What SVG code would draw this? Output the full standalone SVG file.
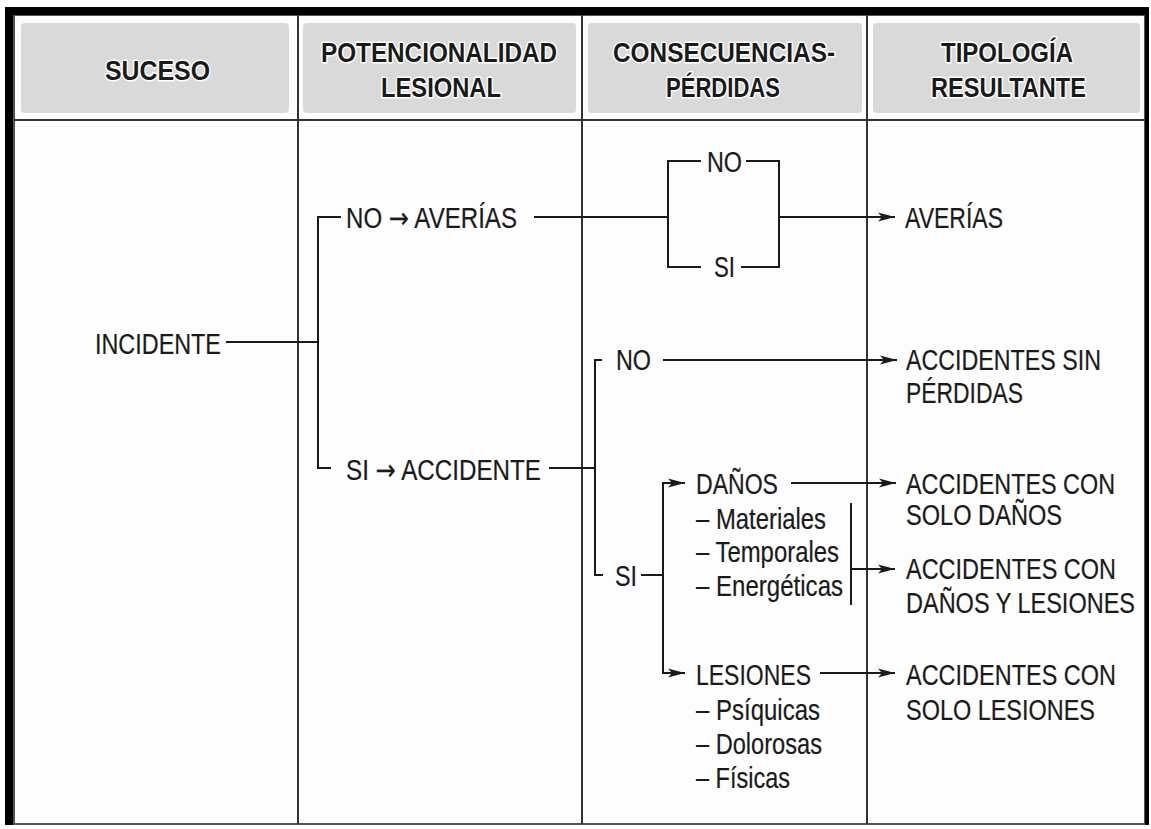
<svg xmlns="http://www.w3.org/2000/svg" width="1151" height="829" viewBox="0 0 1151 829">
<style>
.hd{font-family:"Liberation Sans",Arial,sans-serif;font-weight:bold;font-size:27px;fill:#1a1a1a;stroke:#fff;stroke-width:3px;paint-order:stroke;stroke-linejoin:round}
.t{font-family:"Liberation Sans",Arial,sans-serif;font-size:29px;fill:#1a1a1a;stroke:#1a1a1a;stroke-width:0.2px}
.ar{font-family:"DejaVu Sans",sans-serif}
.hb{fill:#d9d9d9}
.grid{stroke:#333;stroke-width:2;fill:none}
.c{stroke:#1a1a1a;stroke-width:2;fill:none}
.a{marker-end:url(#ah)}
</style>
<defs>
<marker id="ah" markerUnits="userSpaceOnUse" markerWidth="20" markerHeight="12" refX="17" refY="5" orient="auto">
<path d="M0,0.5 L17,5 L0,9.5 L4,5 Z" fill="#1a1a1a"/>
</marker>
</defs>
<rect x="0" y="0" width="1151" height="829" fill="#fff"/>
<g id="frame">
<rect x="14" y="15" width="1131" height="809" fill="#fdfdfd" stroke="#555" stroke-width="2"/>
<rect x="5" y="7" width="1144" height="8" fill="#000"/>
<rect x="5" y="7" width="8" height="818" fill="#000"/>
<rect x="1145" y="7" width="4" height="818" fill="#000"/>
</g>
<g id="header">
<rect class="hb" x="21" y="23" width="268" height="90" rx="4"/>
<rect class="hb" x="303" y="23" width="273" height="90" rx="4"/>
<rect class="hb" x="588" y="23" width="274" height="90" rx="4"/>
<rect class="hb" x="873" y="23" width="267" height="90" rx="4"/>
<text class="hd" x="105" y="80" textLength="105" lengthAdjust="spacingAndGlyphs">SUCESO</text>
<text class="hd" x="321" y="62" textLength="236" lengthAdjust="spacingAndGlyphs">POTENCIONALIDAD</text>
<text class="hd" x="381" y="97" textLength="120" lengthAdjust="spacingAndGlyphs">LESIONAL</text>
<text class="hd" x="613" y="62" textLength="222" lengthAdjust="spacingAndGlyphs">CONSECUENCIAS-</text>
<text class="hd" x="666" y="97" textLength="114" lengthAdjust="spacingAndGlyphs">PÉRDIDAS</text>
<text class="hd" x="941" y="62" textLength="132" lengthAdjust="spacingAndGlyphs">TIPOLOGÍA</text>
<text class="hd" x="931" y="97" textLength="155" lengthAdjust="spacingAndGlyphs">RESULTANTE</text>
</g>
<g id="grid">
<line class="grid" x1="14" y1="120" x2="1145" y2="120"/>
<line class="grid" x1="298" y1="15" x2="298" y2="824"/>
<line class="grid" x1="582" y1="15" x2="582" y2="824"/>
<line class="grid" x1="867" y1="15" x2="867" y2="824"/>
</g>
<g id="connectors">
<line class="c" x1="226" y1="342" x2="318" y2="342"/>
<path class="c" d="M341,217 H318 V468 H331"/>
<line class="c" x1="534" y1="217" x2="668" y2="217"/>
<path class="c" d="M701,161 H668 V267 H701"/>
<path class="c" d="M746,161 H779 V267 H741"/>
<line class="c a" x1="779" y1="217" x2="895" y2="217"/>
<line class="c" x1="549" y1="468" x2="595" y2="468"/>
<path class="c" d="M602,360 H595 V575 H603"/>
<line class="c a" x1="663" y1="360" x2="897" y2="360"/>
<line class="c" x1="641" y1="575" x2="663" y2="575"/>
<path class="c" d="M670,483 H663 V673 H670"/>
<line class="c a" x1="664" y1="483" x2="685" y2="483"/>
<line class="c a" x1="664" y1="673" x2="685" y2="673"/>
<line class="c a" x1="791" y1="483" x2="896" y2="483"/>
<line class="c" x1="851" y1="503" x2="851" y2="605"/>
<line class="c a" x1="851" y1="569" x2="895" y2="569"/>
<line class="c a" x1="820" y1="673" x2="895" y2="673"/>
</g>
<g id="n-incidente"><text class="t" transform="matrix(.78 0 0 1 95 354)" textLength="161.5" lengthAdjust="spacingAndGlyphs">INCIDENTE</text></g>
<g id="n-no-averias"><text class="t" transform="matrix(.78 0 0 1 346 228)" textLength="219.2" lengthAdjust="spacingAndGlyphs">NO <tspan class="ar">→</tspan> AVERÍAS</text></g>
<g id="n-si-accidente"><text class="t" transform="matrix(.78 0 0 1 346 480)" textLength="250" lengthAdjust="spacingAndGlyphs">SI <tspan class="ar">→</tspan> ACCIDENTE</text></g>
<g id="n-box-no"><text class="t" transform="matrix(.78 0 0 1 707 172)" textLength="44.9" lengthAdjust="spacingAndGlyphs">NO</text></g>
<g id="n-box-si"><text class="t" transform="matrix(.78 0 0 1 714 277)" textLength="26.9" lengthAdjust="spacingAndGlyphs">SI</text></g>
<g id="n-averias"><text class="t" transform="matrix(.78 0 0 1 905 228)" textLength="125.6" lengthAdjust="spacingAndGlyphs">AVERÍAS</text></g>
<g id="n-no"><text class="t" transform="matrix(.78 0 0 1 616 370)" textLength="44.9" lengthAdjust="spacingAndGlyphs">NO</text></g>
<g id="n-sin-perdidas">
<text class="t" transform="matrix(.78 0 0 1 906 370)" textLength="250" lengthAdjust="spacingAndGlyphs">ACCIDENTES SIN</text>
<text class="t" transform="matrix(.78 0 0 1 906 403)" textLength="150" lengthAdjust="spacingAndGlyphs">PÉRDIDAS</text>
</g>
<g id="n-danos">
<text class="t" transform="matrix(.78 0 0 1 696 494)" textLength="105.1" lengthAdjust="spacingAndGlyphs">DAÑOS</text>
<text class="t" transform="matrix(.78 0 0 1 696 529)" textLength="166.7" lengthAdjust="spacingAndGlyphs">– Materiales</text>
<text class="t" transform="matrix(.78 0 0 1 696 562)" textLength="183.3" lengthAdjust="spacingAndGlyphs">– Temporales</text>
<text class="t" transform="matrix(.78 0 0 1 696 596)" textLength="188.5" lengthAdjust="spacingAndGlyphs">– Energéticas</text>
</g>
<g id="n-si"><text class="t" transform="matrix(.78 0 0 1 615 586)" textLength="28.2" lengthAdjust="spacingAndGlyphs">SI</text></g>
<g id="n-solo-danos">
<text class="t" transform="matrix(.78 0 0 1 906 494)" textLength="268" lengthAdjust="spacingAndGlyphs">ACCIDENTES CON</text>
<text class="t" transform="matrix(.78 0 0 1 906 525)" textLength="200" lengthAdjust="spacingAndGlyphs">SOLO DAÑOS</text>
</g>
<g id="n-danos-lesiones">
<text class="t" transform="matrix(.78 0 0 1 906 579)" textLength="269.2" lengthAdjust="spacingAndGlyphs">ACCIDENTES CON</text>
<text class="t" transform="matrix(.78 0 0 1 906 613)" textLength="293.6" lengthAdjust="spacingAndGlyphs">DAÑOS Y LESIONES</text>
</g>
<g id="n-lesiones">
<text class="t" transform="matrix(.78 0 0 1 696 685)" textLength="147.4" lengthAdjust="spacingAndGlyphs">LESIONES</text>
<text class="t" transform="matrix(.78 0 0 1 696 720)" textLength="159" lengthAdjust="spacingAndGlyphs">– Psíquicas</text>
<text class="t" transform="matrix(.78 0 0 1 696 754)" textLength="161.5" lengthAdjust="spacingAndGlyphs">– Dolorosas</text>
<text class="t" transform="matrix(.78 0 0 1 696 788)" textLength="120.5" lengthAdjust="spacingAndGlyphs">– Físicas</text>
</g>
<g id="n-solo-lesiones">
<text class="t" transform="matrix(.78 0 0 1 906 685)" textLength="269.2" lengthAdjust="spacingAndGlyphs">ACCIDENTES CON</text>
<text class="t" transform="matrix(.78 0 0 1 906 720)" textLength="242.3" lengthAdjust="spacingAndGlyphs">SOLO LESIONES</text>
</g>
</svg>
